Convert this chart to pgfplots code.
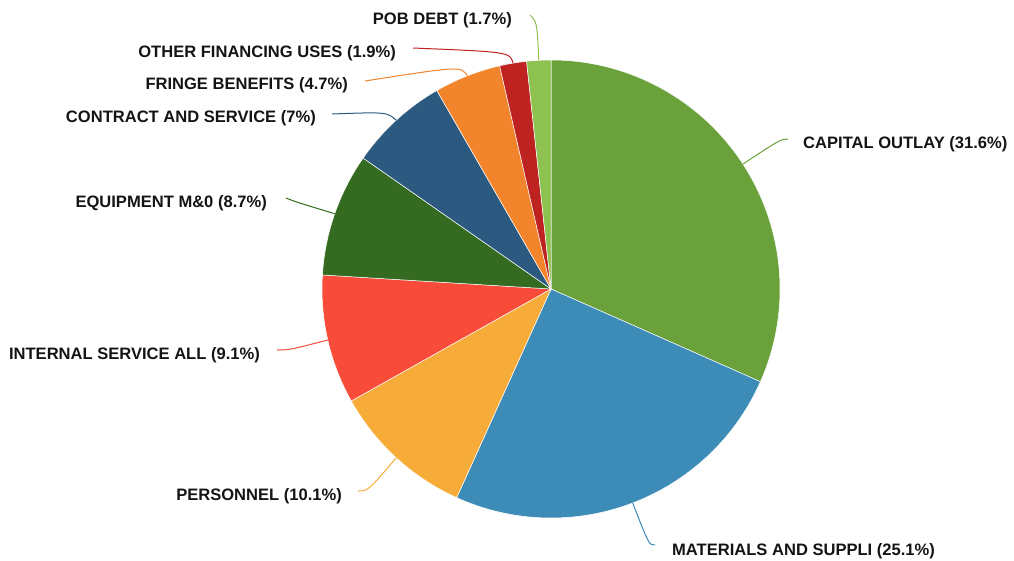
\documentclass[border=0pt]{standalone}
\usepackage{pgfplots}
\pgfplotsset{compat=1.18}
\usepackage{pgfplotstable}
\usepackage{fontspec}
\setmainfont{Liberation Sans}

\definecolor{c0}{HTML}{6AA13B}
\definecolor{c1}{HTML}{3D8BB7}
\definecolor{c2}{HTML}{F7AB38}
\definecolor{c3}{HTML}{F94B39}
\definecolor{c4}{HTML}{356A21}
\definecolor{c5}{HTML}{2C5980}
\definecolor{c6}{HTML}{F2842B}
\definecolor{c7}{HTML}{BE2321}
\definecolor{c8}{HTML}{8DC150}

% share (%), leader-line bend point (q), line end (e), label anchor (l), in pixel coordinates
\pgfplotstableread{
val  qx  qy  ex  ey  lx  ly
31.6 781 139 788 139 803 149
25.1 649 545 655 545 672 555
10.1 368 491 358 491 342 500
9.1  289 350 277 350 260 359
8.7  296 202 286 198 267 208
7    387 112 332 114 316 123
4.7  461 66  365 81  348 90
1.9  510 52  413 48  396 58
1.7  537 22  530 15  512 25
}\piedata

\expandafter\def\csname lab0\endcsname{CAPITAL OUTLAY (31.6\%)}
\expandafter\def\csname lab1\endcsname{MATERIALS AND SUPPLI (25.1\%)}
\expandafter\def\csname lab2\endcsname{PERSONNEL (10.1\%)}
\expandafter\def\csname lab3\endcsname{INTERNAL SERVICE ALL (9.1\%)}
\expandafter\def\csname lab4\endcsname{EQUIPMENT M\&0 (8.7\%)}
\expandafter\def\csname lab5\endcsname{CONTRACT AND SERVICE (7\%)}
\expandafter\def\csname lab6\endcsname{FRINGE BENEFITS (4.7\%)}
\expandafter\def\csname lab7\endcsname{OTHER FINANCING USES (1.9\%)}
\expandafter\def\csname lab8\endcsname{POB DEBT (1.7\%)}

\newcommand\g[2]{\csname #1#2\endcsname}
\newcommand\total{99.9}
\newcommand\cx{551}
\newcommand\cy{289}
\newcommand\rr{229}
\xdef\cum{0}
\pgfplotsforeachungrouped \i in {0,...,8}{%
  \pgfplotstablegetelem{\i}{val}\of\piedata
  \pgfmathsetmacro\v{\pgfplotsretval}%
  \pgfmathsetmacro\sa{90-\cum/\total*360}%
  \pgfmathsetmacro\ea{90-(\cum+\v)/\total*360}%
  \pgfmathsetmacro\ma{(\sa+\ea)/2}%
  \pgfmathsetmacro\sx{\cx+\rr*cos(\sa)}%
  \pgfmathsetmacro\sy{\cy-\rr*sin(\sa)}%
  \pgfmathsetmacro\px{\cx+\rr*cos(\ma)}%
  \pgfmathsetmacro\py{\cy-\rr*sin(\ma)}%
  \pgfmathsetmacro\newcum{\cum+\v}%
  \xdef\cum{\newcum}%
  \expandafter\xdef\csname sa\i\endcsname{\sa}%
  \expandafter\xdef\csname ea\i\endcsname{\ea}%
  \expandafter\xdef\csname sx\i\endcsname{\sx}%
  \expandafter\xdef\csname sy\i\endcsname{\sy}%
  \expandafter\xdef\csname px\i\endcsname{\px}%
  \expandafter\xdef\csname py\i\endcsname{\py}%
  \pgfplotstablegetelem{\i}{qx}\of\piedata\expandafter\xdef\csname qx\i\endcsname{\pgfplotsretval}%
  \pgfplotstablegetelem{\i}{qy}\of\piedata\expandafter\xdef\csname qy\i\endcsname{\pgfplotsretval}%
  \pgfplotstablegetelem{\i}{ex}\of\piedata\expandafter\xdef\csname ex\i\endcsname{\pgfplotsretval}%
  \pgfplotstablegetelem{\i}{ey}\of\piedata\expandafter\xdef\csname ey\i\endcsname{\pgfplotsretval}%
  \pgfplotstablegetelem{\i}{lx}\of\piedata\expandafter\xdef\csname lx\i\endcsname{\pgfplotsretval}%
  \pgfplotstablegetelem{\i}{ly}\of\piedata\expandafter\xdef\csname ly\i\endcsname{\pgfplotsretval}%
}

\newcommand\lbl{\fontsize{16.55}{19}\selectfont\bfseries}

\begin{document}
\begin{tikzpicture}
\begin{axis}[
  width=1014pt, height=561pt, scale only axis,
  xmin=0, xmax=1014, ymin=0, ymax=561,
  y dir=reverse, hide axis, clip=false]
\path (axis cs:0,0) rectangle (axis cs:1014,561);
\pgfplotsinvokeforeach{0,...,8}{
  \fill[c#1, draw=white, line width=0.5pt]
    (axis cs:\cx,\cy) -- (axis cs:\g{sx}{#1},\g{sy}{#1})
    arc[start angle=\g{sa}{#1}, end angle=\g{ea}{#1}, radius=229pt] -- cycle;
}
\pgfplotsinvokeforeach{0,...,8}{
  \draw[c#1, line width=1pt]
    (axis cs:\g{px}{#1},\g{py}{#1}) .. controls (axis cs:\g{qx}{#1},\g{qy}{#1}) ..
    (axis cs:\g{ex}{#1},\g{ey}{#1});
}
\pgfplotsinvokeforeach{0,1}{
  \node[anchor=base west, inner sep=0pt, font=\lbl, text=black!92]
    at (axis cs:\g{lx}{#1},\g{ly}{#1}) {\g{lab}{#1}};
}
\pgfplotsinvokeforeach{2,...,8}{
  \node[anchor=base east, inner sep=0pt, font=\lbl, text=black!92]
    at (axis cs:\g{lx}{#1},\g{ly}{#1}) {\g{lab}{#1}};
}
\end{axis}
\end{tikzpicture}
\end{document}
